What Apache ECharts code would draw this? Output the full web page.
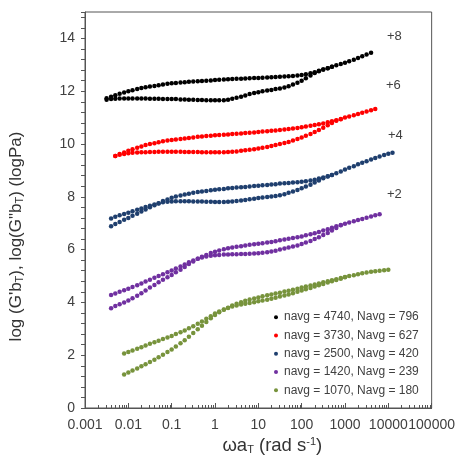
<!DOCTYPE html>
<html>
<head>
<meta charset="utf-8">
<script src="https://cdn.jsdelivr.net/npm/echarts@6/dist/echarts.min.js"></script>
<style>
  html, body { margin: 0; padding: 0; background: #fff; }
  #chart { width: 458px; height: 467px; }
</style>
</head>
<body>
<div id="chart"></div>
<script>
// Reduced frequency grid, ω·aT (rad/s), 10 points per decade
const omega = [0.00315, 0.004, 0.005, 0.0063, 0.008,
  0.01, 0.0125, 0.016, 0.02, 0.025, 0.0315, 0.04, 0.05, 0.063, 0.08,
  0.1, 0.125, 0.16, 0.2, 0.25, 0.315, 0.4, 0.5, 0.63, 0.8,
  1, 1.25, 1.6, 2, 2.5, 3.15, 4, 5, 6.3, 8,
  10, 12.5, 16, 20, 25, 31.5, 40, 50, 63, 80,
  100, 125, 160, 200, 250, 315, 400, 500, 630, 800,
  1000, 1250, 1600, 2000, 2500, 3150, 4000, 5000, 6300, 8000,
  10000, 12500];

// Sample labels (legend order)
const sampleNames = [
  'navg = 4740, Navg = 796',
  'navg = 3730, Navg = 627',
  'navg = 2500, Navg = 420',
  'navg = 1420, Navg = 239',
  'navg = 1070, Navg = 180'
];

// Vertical shift labels
const shiftLabels = ['+8', '+6', '+4', '+2'];

// log(G' bT) and log(G'' bT), shifted, aligned with omega (null = no point)
const gp4740 = [11.73, 11.79, 11.85, 11.9, 11.95, 12.0, 12.04, 12.08, 12.12, 12.15,
  12.18, 12.2, 12.23, 12.25, 12.28, 12.3, 12.31, 12.33, 12.34, 12.36,
  12.37, 12.38, 12.39, 12.4, 12.41, 12.42, 12.43, 12.44, 12.45, 12.46,
  12.47, 12.47, 12.48, 12.49, 12.5, 12.5, 12.51, 12.52, 12.53, 12.54,
  12.55, 12.56, 12.57, 12.58, 12.59, 12.61, 12.64, 12.68, 12.72, 12.77,
  12.82, 12.87, 12.93, 12.98, 13.03, 13.08, 13.13, 13.19, 13.26, 13.32,
  13.39, 13.46];
const gpp4740 = [11.68, 11.7, 11.71, 11.72, 11.72, 11.72, 11.72, 11.72, 11.72, 11.72,
  11.71, 11.71, 11.71, 11.7, 11.7, 11.7, 11.7, 11.69, 11.69, 11.68,
  11.68, 11.67, 11.67, 11.66, 11.66, 11.66, 11.66, 11.66, 11.68, 11.71,
  11.75, 11.79, 11.84, 11.89, 11.93, 11.96, 12.0, 12.03, 12.05, 12.08,
  12.1, 12.14, 12.19, 12.25, 12.32, 12.4, 12.49, 12.59, 12.69, 12.76,
  12.82, 12.87, 12.93];

const gp3730 = [null, null,
  9.55, 9.62, 9.68, 9.74, 9.8, 9.86, 9.91, 9.96, 10.0, 10.03,
  10.07, 10.1, 10.13, 10.15, 10.17, 10.19, 10.21, 10.23, 10.25, 10.27,
  10.28, 10.3, 10.31, 10.33, 10.34, 10.35, 10.36, 10.38, 10.39, 10.4,
  10.42, 10.43, 10.44, 10.45, 10.47, 10.48, 10.5, 10.51, 10.53, 10.55,
  10.57, 10.59, 10.61, 10.63, 10.66, 10.69, 10.72, 10.75, 10.78, 10.82,
  10.86, 10.9, 10.95, 11.0, 11.04, 11.09, 11.14, 11.18, 11.23, 11.28,
  11.33];
const gpp3730 = [null, null,
  9.55, 9.59, 9.62, 9.65, 9.67, 9.68, 9.69, 9.69, 9.7, 9.7,
  9.71, 9.71, 9.71, 9.71, 9.71, 9.71, 9.7, 9.7, 9.7, 9.7,
  9.69, 9.69, 9.69, 9.69, 9.69, 9.69, 9.7, 9.71, 9.72, 9.74,
  9.76, 9.78, 9.8, 9.83, 9.86, 9.89, 9.92, 9.96, 10.0, 10.04,
  10.08, 10.13, 10.19, 10.25, 10.31, 10.38, 10.45, 10.53, 10.62, 10.71,
  10.8, 10.88, 10.94];

const gp2500 = [null,
  6.88, 6.97, 7.05, 7.13, 7.2, 7.28, 7.36, 7.44, 7.52, 7.6,
  7.68, 7.76, 7.84, 7.9, 7.96, 8.01, 8.05, 8.09, 8.12, 8.15,
  8.18, 8.2, 8.22, 8.25, 8.27, 8.29, 8.3, 8.32, 8.33, 8.35,
  8.36, 8.37, 8.39, 8.41, 8.42, 8.44, 8.45, 8.47, 8.48, 8.5,
  8.51, 8.52, 8.54, 8.55, 8.57, 8.59, 8.62, 8.65, 8.69, 8.73,
  8.78, 8.83, 8.89, 8.96, 9.03, 9.1, 9.16, 9.23, 9.29, 9.35,
  9.41, 9.47, 9.53, 9.58, 9.63, 9.67];
const gpp2500 = [null,
  7.18, 7.24, 7.3, 7.35, 7.4, 7.45, 7.51, 7.56, 7.61, 7.66,
  7.71, 7.75, 7.79, 7.81, 7.82, 7.83, 7.83, 7.83, 7.83, 7.82,
  7.82, 7.82, 7.81, 7.81, 7.8, 7.8, 7.8, 7.81, 7.82, 7.84,
  7.86, 7.88, 7.91, 7.93, 7.95, 7.97, 7.99, 8.01, 8.03, 8.06,
  8.1, 8.15, 8.2, 8.26, 8.32, 8.39, 8.46, 8.54, 8.62, 8.7,
  8.77, 8.83];

const gp1420 = [null,
  3.78, 3.86, 3.93, 4.0, 4.07, 4.16, 4.25, 4.35, 4.45, 4.56,
  4.66, 4.76, 4.86, 4.95, 5.04, 5.14, 5.24, 5.34, 5.45, 5.55,
  5.65, 5.73, 5.8, 5.87, 5.92, 5.97, 6.01, 6.05, 6.08, 6.11,
  6.13, 6.16, 6.18, 6.2, 6.22, 6.24, 6.27, 6.29, 6.32, 6.35,
  6.38, 6.41, 6.44, 6.47, 6.5, 6.54, 6.58, 6.62, 6.67, 6.72,
  6.77, 6.83, 6.88, 6.93, 6.98, 7.03, 7.07, 7.12, 7.16, 7.21,
  7.25, 7.3, 7.34];
const gpp1420 = [null,
  4.28, 4.34, 4.4, 4.46, 4.52, 4.58, 4.65, 4.72, 4.79, 4.86,
  4.93, 5.0, 5.07, 5.14, 5.21, 5.28, 5.36, 5.44, 5.52, 5.59,
  5.65, 5.7, 5.74, 5.77, 5.79, 5.8, 5.81, 5.81, 5.82, 5.82,
  5.83, 5.83, 5.84, 5.85, 5.86, 5.88, 5.9, 5.93, 5.96, 6.0,
  6.04, 6.08, 6.12, 6.16, 6.21, 6.27, 6.33, 6.4, 6.47, 6.55,
  6.63, 6.72, 6.82, 6.92];

const gp1070 = [null, null, null, null,
  1.27, 1.34, 1.42, 1.5, 1.58, 1.66, 1.74, 1.83, 1.92, 2.02,
  2.12, 2.22, 2.33, 2.45, 2.57, 2.7, 2.84, 2.98, 3.12, 3.26,
  3.4, 3.52, 3.63, 3.72, 3.8, 3.88, 3.95, 4.01, 4.06, 4.11,
  4.15, 4.19, 4.23, 4.27, 4.3, 4.34, 4.37, 4.41, 4.44, 4.48,
  4.52, 4.56, 4.6, 4.64, 4.68, 4.72, 4.76, 4.8, 4.84, 4.88,
  4.92, 4.96, 5.0, 5.03, 5.07, 5.1, 5.13, 5.16, 5.18, 5.2,
  5.22, 5.24];
const gpp1070 = [null, null, null, null,
  2.06, 2.12, 2.18, 2.24, 2.3, 2.37, 2.43, 2.49, 2.55, 2.61,
  2.67, 2.73, 2.8, 2.87, 2.94, 3.02, 3.1, 3.19, 3.28, 3.38,
  3.48, 3.58, 3.66, 3.73, 3.79, 3.84, 3.88, 3.92, 3.95, 3.98,
  4.01, 4.04, 4.07, 4.1, 4.14, 4.18, 4.22, 4.26, 4.3, 4.35,
  4.4, 4.45, 4.5, 4.55, 4.6, 4.65, 4.7, 4.75, 4.8, 4.85,
  4.9, 4.95];

const curvePairs = [
  [gp4740, gpp4740],
  [gp3730, gpp3730],
  [gp2500, gpp2500],
  [gp1420, gpp1420],
  [gp1070, gpp1070]
];
const palette = ['#000000', '#ff0000', '#1f3f6e', '#7030a0', '#77933c'];

// Log-axis minor tick positions (2..9 within each decade)
const minorMultipliers = [2, 3, 4, 5, 6, 7, 8, 9];
const decadeStarts = [0.001, 0.01, 0.1, 1, 10, 100, 1000, 10000];

function toPoints(values) {
  const pts = [];
  values.forEach((v, i) => { if (v != null) pts.push([omega[i], v]); });
  return pts;
}

const FONT = '"Liberation Sans", Arial, sans-serif';
const series = [];
curvePairs.forEach((pair, i) => {
  pair.forEach(values => {
    series.push({
      type: 'scatter',
      name: sampleNames[i],
      data: toPoints(values),
      symbol: 'circle',
      symbolSize: 4.5,
      itemStyle: { color: palette[i], opacity: 1 },
      emphasis: { disabled: true },
      silent: true
    });
  });
});

const labelGraphics = shiftLabels.map((t, i) => ({
  type: 'text',
  left: [387, 386, 388, 387][i],
  top: [30, 79, 129, 188][i],
  silent: true,
  style: { text: t, font: '13px ' + FONT, fill: '#404040' }
}));

const chart = echarts.init(document.getElementById('chart'), null, { renderer: 'canvas' });
chart.setOption({
  animation: false,
  backgroundColor: '#ffffff',
  grid: {
    left: 84, top: 12, right: 24, bottom: 59,
    show: true, borderColor: '#555', borderWidth: 1
  },
  legend: {
    data: sampleNames,
    orient: 'vertical',
    left: 269, top: 303,
    icon: 'circle',
    itemWidth: 4, itemHeight: 4,
    itemGap: 0,
    selectedMode: false,
    textStyle: { fontFamily: FONT, fontSize: 12, color: '#404040', lineHeight: 18.3, padding: [0, 0, 0, 1] }
  },
  xAxis: {
    type: 'log',
    logBase: 10,
    min: 0.001,
    max: 100000,
    name: 'ωa{sub|T} (rad s{sup|-1})',
    nameLocation: 'middle',
    nameGap: 26,
    nameTextStyle: {
      fontFamily: FONT, fontSize: 18.5, color: '#333',
      padding: [0, 0, 0, 28],
      rich: {
        sub: { fontFamily: FONT, fontSize: 11, color: '#333', verticalAlign: 'bottom', lineHeight: 13 },
        sup: { fontFamily: FONT, fontSize: 11, color: '#333', verticalAlign: 'top', lineHeight: 13 }
      }
    },
    axisLine: { show: true, lineStyle: { color: '#555', width: 1 } },
    axisTick: { show: true, inside: true, length: 5, lineStyle: { color: '#555' } },
    splitLine: { show: false },
    axisLabel: {
      fontFamily: FONT, fontSize: 14, color: '#404040', margin: 10,
      formatter: v => String(Number(v.toPrecision(1)))
    }
  },
  yAxis: {
    type: 'value',
    min: 0,
    max: 15,
    interval: 0.4,
    name: 'log (G\'b{sub|T}), log(G"b{sub|T}) (logPa)',
    nameLocation: 'middle',
    nameGap: 60,
    nameRotate: 90,
    nameTextStyle: {
      fontFamily: FONT, fontSize: 17, color: '#333',
      padding: [0, 53, 0, 0],
      rich: {
        sub: { fontFamily: FONT, fontSize: 11, color: '#333', verticalAlign: 'bottom', lineHeight: 13 }
      }
    },
    axisLine: { show: true, lineStyle: { color: '#555', width: 1 } },
    axisTick: { show: true, inside: false, length: 4, lineStyle: { color: '#555' } },
    splitLine: { show: false },
    axisLabel: {
      fontFamily: FONT, fontSize: 14, color: '#404040', margin: 10,
      formatter: v => {
        const r = Math.round(v);
        return (Math.abs(v - r) < 1e-6 && r % 2 === 0 && r <= 14) ? String(r) : '';
      }
    }
  },
  graphic: labelGraphics,
  series: series
});

// Minor ticks on the log axis, placed through the axis scale
const yBase = chart.convertToPixel({ yAxisIndex: 0 }, 0);
const tickGraphics = [];
decadeStarts.forEach(d => {
  minorMultipliers.forEach(m => {
    const x = Math.round(chart.convertToPixel({ xAxisIndex: 0 }, d * m)) + 0.5;
    tickGraphics.push({
      type: 'line', silent: true,
      shape: { x1: x, y1: yBase, x2: x, y2: yBase - 3 },
      style: { stroke: '#555', lineWidth: 1 }
    });
  });
});
chart.setOption({ graphic: labelGraphics.concat(tickGraphics) });
</script>
</body>
</html>
